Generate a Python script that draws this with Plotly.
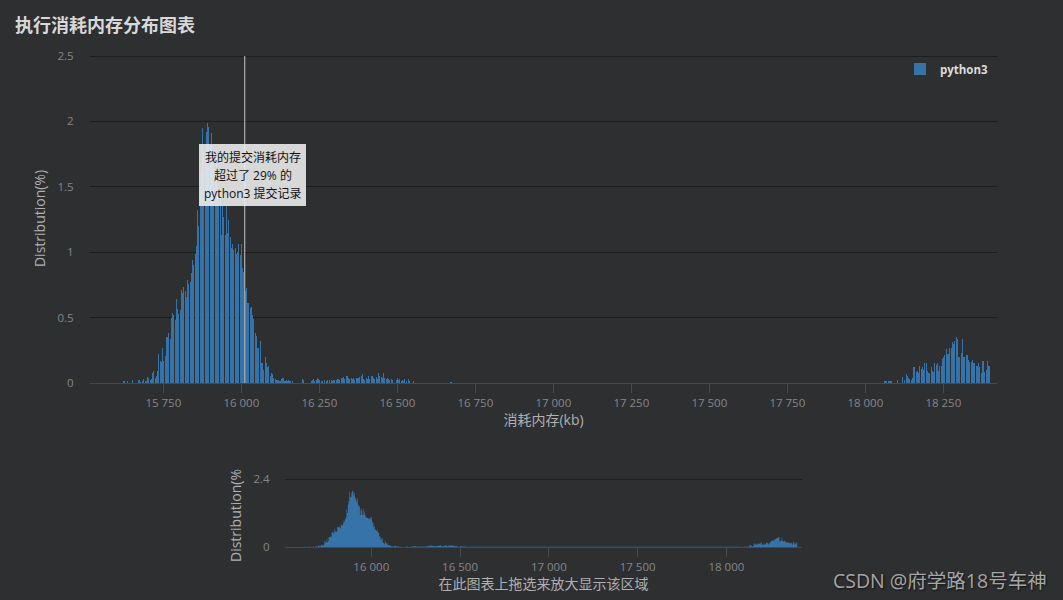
import plotly.graph_objects as go

CN_FONT = "Open Sans, Noto Sans CJK SC, sans-serif"
BG = "#2e2f31"
BAR = "#3673a8"

# bins, 4 kb apart
LEFT_START = 15624
LEFT_PCT = [
    .01, 0, 0, .01,
    0, 0, 0, .025,
    0, 0, 0, 0,
    .025, .005, 0, .01,
    .03, .01, .01, .045,
    .04, .02, .03, .075,
    .095, .04, .05, .09,
    .22, .17, .16, .27,
    .17, .21, .35, .35,
    .38, .34, .5, .535,
    .52, .48, .645, .565,
    .53, .56, .71, .69,
    .735, .7, .66, .79,
    .76, .775, .84, .94,
    .9, .99, 1.05, 1.32,
    1.2, 1.5, 1.62, 1.95,
    1.77, 1.76, 1.92, 1.99,
    1.96, 1.82, 1.91, 1.75,
    1.68, 1.6, 1.72, 1.5,
    1.42, 1.45, 1.13, 1.35,
    1.27, 1.13, 1.36, 1.15,
    1.25, 1.12, 1.03, 1.06,
    1.02, 1.03, .985, 1.0,
    1.06, .98, 1.06, .88,
    .85, .7, .73, .61,
    .615, .57, .58, .52,
    .49, .38, .36, .265,
    .27, .32, .15, .15,
    .10, .2, .15, .12,
    .13, .05, .075, .07,
    .04, .03, .025, .025,
    .02, .015, .03, .035,
    .04, .015, .02, .01,
    .025, .01, 0, .01,
    0, 0, 0, 0,
    0, 0, 0, .03,
    .02, 0, 0, 0,
    0, 0, .01, .02,
    .03, .015, .02, .035,
    .03, .02, .01, .015,
    0, .025, .01, .025,
    0, .02, .02, .01,
    .02, .02, .02, .03,
    .03, .02, .035, .04,
    .045, .03, .05, .05,
    .035, .03, .04, .03,
    .035, .02, .035, .04,
    .04, .045, .055, .07,
    .03, .02, .035, .03,
    .05, .03, .05, .055,
    .04, .03, .045, .03,
    .075, .05, .045, .04,
    .075, .04, .03, .035,
    .03, .025, .03, .02,
    0, 0, .02, .035,
    .025, .03, .01, .02,
    .01, .03, .01, 0,
    .03, .01, 0, 0,
    .01,
]
LONE_MEMORY = [16672]
LONE_PCT = [.005]
RIGHT_START = 18063
RIGHT_PCT = [
    .01, .01, 0, .01,
    .01, .01, 0, 0,
    0, 0, .025, 0,
    0, 0, .045, 0,
    .02, .07, .05, .04,
    .03, .02, .04, .12,
    .12, .085, .09, .08,
    .13, .105, .12, .1,
    .15, .155, .09, .08,
    .08, .125, .09, .085,
    .15, .135, .15, .09,
    .13, .13, .185, .2,
    .215, .26, .22, .22,
    .27, .27, .315, .3,
    .32, .35, .34, .2,
    .2, .23, .34, .2,
    .2, .215, .215, .175,
    .16, .16, .175, .15,
    .15, .13, .13, .15,
    .12, .08, .17, .17,
    .085, .1, .17, .13,
    .13,
]
MY_MEMORY = 16011

X_TICKS = [15750, 16000, 16250, 16500, 16750, 17000, 17250, 17500, 17750, 18000, 18250]
NAV_TICKS = [16000, 16500, 17000, 17500, 18000]
Y_TICKS = [0, 0.5, 1, 1.5, 2, 2.5]
Y_LABELS = ["0", "0.5", "1", "1.5", "2", "2.5"]
TOOLTIP_LINES = ["我的提交消耗内存", "超过了 29% 的", "python3 提交记录"]


def spaced(v):
    return f"{v:,}".replace(",", " ")


left_memory = list(range(LEFT_START, LEFT_START + 4 * len(LEFT_PCT), 4))
right_memory = list(range(RIGHT_START, RIGHT_START + 4 * len(RIGHT_PCT), 4))
memory = left_memory + LONE_MEMORY + right_memory
pct = LEFT_PCT + LONE_PCT + RIGHT_PCT

fig = go.Figure()
# very thin bars get snapped out to whole pixels, which leaves the regular gaps of the original
fig.add_trace(go.Bar(x=memory, y=pct, width=0.15, name="python3",
                     marker=dict(color=BAR, line=dict(width=0))))
# navigator is a solid step area, None keeps the clusters apart
fig.add_trace(go.Scatter(x=left_memory + [None] + right_memory, y=LEFT_PCT + [None] + RIGHT_PCT,
                         xaxis="x2", yaxis="y2", showlegend=False, mode="lines",
                         line=dict(shape="hv", width=0, color=BAR), fill="tozeroy", fillcolor=BAR))

tick_font = dict(family=CN_FONT, size=11.5, color="#85868a")
title_font = dict(family=CN_FONT, size=14, color="#aeb0b2")
grid = "#1e1e1f"
axis_line = "#48494b"

tooltip_notes = [
    dict(xref="paper", yref="paper", x=252.5 / 1063, y=1 - py / 600, xanchor="center", yanchor="middle",
         text=line, showarrow=False, font=dict(family=CN_FONT, size=12, color="#111111"))
    for line, py in zip(TOOLTIP_LINES, [157, 175, 193])
]

fig.update_layout(
    width=1063, height=600,
    margin=dict(l=0, r=0, t=0, b=0, autoexpand=False),
    paper_bgcolor=BG, plot_bgcolor=BG,
    bargap=0,
    title=dict(text="<b>执行消耗内存分布图表</b>", x=15 / 1063, xanchor="left", y=1 - 26 / 600, yanchor="middle",
               font=dict(family=CN_FONT, size=18, color="#d8d8d8")),
    legend=dict(x=994 / 1063, xanchor="right", y=1 - 69 / 600, yanchor="middle", bgcolor="rgba(0,0,0,0)",
                font=dict(family=CN_FONT, size=11.5, color="#dcdcdc", weight="bold")),
    xaxis=dict(domain=[90 / 1063, 997 / 1063], range=[15515, 18422],
               tickmode="array", tickvals=X_TICKS, ticktext=[spaced(v) for v in X_TICKS],
               ticks="outside", ticklen=9, tickcolor=axis_line, tickfont=tick_font,
               showgrid=False, showline=True, linecolor=axis_line, zeroline=False,
               title=dict(text="消耗内存(kb)", font=title_font, standoff=6)),
    yaxis=dict(domain=[(600 - 383) / 600, (600 - 54) / 600], range=[0, 2.5153], anchor="x",
               tickmode="array", tickvals=Y_TICKS, ticktext=Y_LABELS,
               ticks="outside", ticklen=13, tickcolor="rgba(0,0,0,0)", tickfont=tick_font,
               gridcolor=grid, gridwidth=1, zeroline=False,
               title=dict(text="Distribution(%)", font=title_font, standoff=8)),
    xaxis2=dict(domain=[285 / 1063, 802 / 1063], range=[15514, 18426], anchor="y2",
                tickmode="array", tickvals=NAV_TICKS, ticktext=[spaced(v) for v in NAV_TICKS],
                ticks="outside", ticklen=9, tickcolor=axis_line, tickfont=tick_font,
                showgrid=False, showline=True, linecolor=axis_line, zeroline=False,
                title=dict(text="在此图表上拖选来放大显示该区域", font=title_font, standoff=5)),
    yaxis2=dict(domain=[(600 - 547) / 600, (600 - 477) / 600], range=[0, 2.4706], anchor="x2",
                tickmode="array", tickvals=[0, 2.4], ticktext=["0", "2.4"],
                ticks="outside", ticklen=12, tickcolor="rgba(0,0,0,0)", tickfont=tick_font,
                gridcolor=grid, gridwidth=1, zeroline=False),
    shapes=[
        dict(type="line", xref="x", yref="y", x0=MY_MEMORY, x1=MY_MEMORY, y0=0, y1=2.5,
             line=dict(color="#c8c8c8", width=1)),
        dict(type="rect", xref="paper", yref="paper", x0=199 / 1063, x1=306 / 1063,
             y0=1 - 206 / 600, y1=1 - 144 / 600, line=dict(width=0), fillcolor="rgba(240,240,240,0.88)"),
    ],
    annotations=tooltip_notes + [
        dict(xref="paper", yref="paper", x=235 / 1063, y=1 - 516 / 600, xanchor="center", yanchor="middle",
             text="Distribution(%", textangle=-90, showarrow=False, font=title_font),
        dict(xref="paper", yref="paper", x=1048.5 / 1063, y=1 - 580 / 600, xanchor="right", yanchor="middle",
             text="CSDN @府学路18号车神", showarrow=False,
             font=dict(family=CN_FONT, size=19.5, color="#a6a6a6", shadow="1px 1px 2px #111111")),
    ],
)

fig.write_html("out.html", config=dict(displayModeBar=False),
               post_script=f"document.body.style.margin='0';document.body.style.background='{BG}';")
